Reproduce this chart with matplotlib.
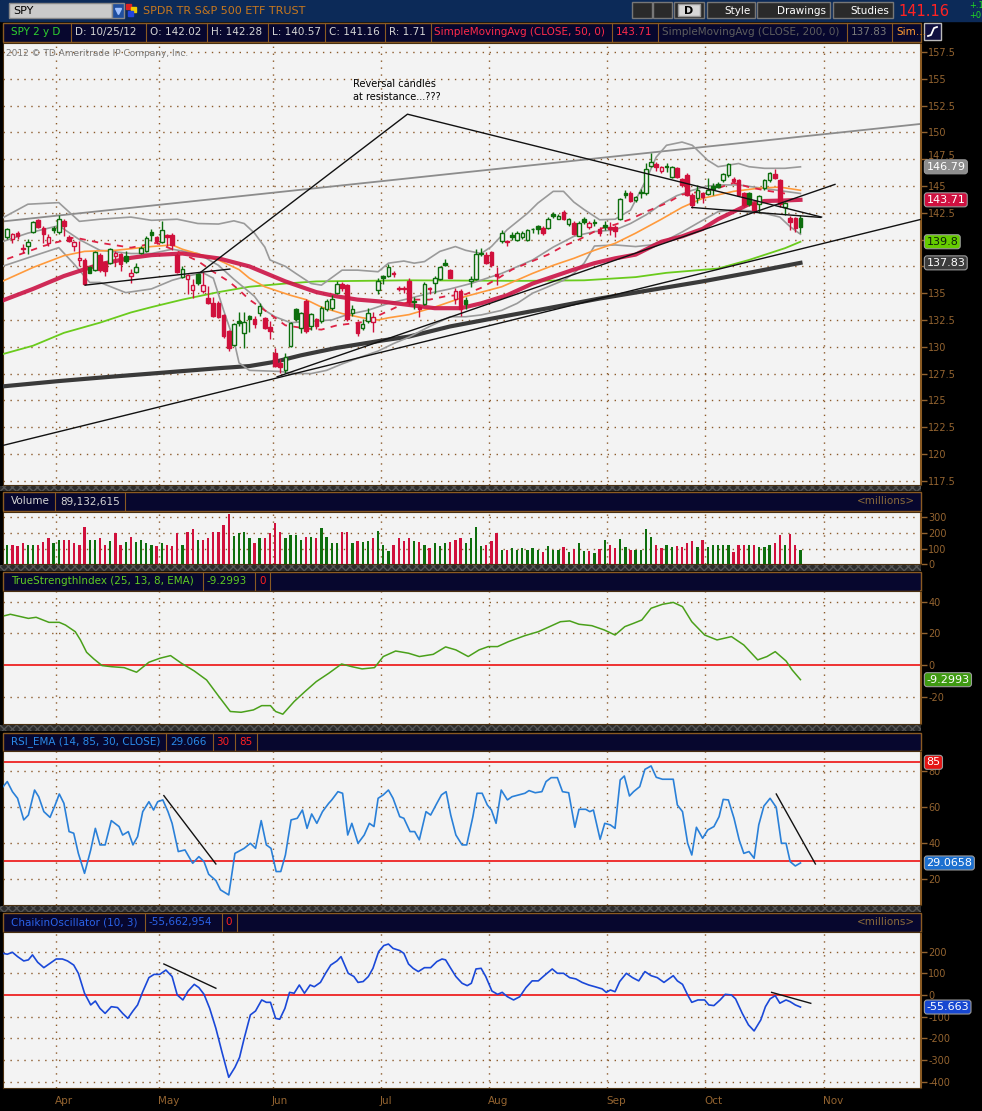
import numpy as np
import matplotlib.pyplot as plt
from matplotlib.patches import Rectangle
from matplotlib.transforms import offset_copy

W, H = 982, 1111

# Daily SPY bars, 2012-03-19 .. 2012-10-25 (bar index 0..154).
opens = [
    140.27, 140.02, 140.61, 139.25, 139.40, 140.71, 141.83, 141.11, 139.65, 141.05,
    140.71, 141.74, 140.27, 139.40, 138.07, 138.07, 137.44, 137.16, 138.53, 137.91,
    137.85, 138.47, 138.63, 138.47, 136.60, 136.98, 138.72, 138.94, 140.71, 140.24,
    139.78, 140.40, 140.40, 138.60, 136.54, 136.29, 135.27, 136.76, 135.21, 134.52,
    134.12, 134.05, 132.97, 131.47, 130.14, 132.41, 131.32, 132.87, 132.56, 133.18,
    132.72, 131.85, 129.45, 128.52, 127.84, 130.07, 133.55, 131.78, 134.27, 131.94,
    132.63, 132.41, 133.49, 133.65, 135.05, 135.83, 135.73, 133.18, 132.19, 131.78,
    132.41, 132.31, 135.30, 136.60, 136.60, 136.92, 135.52, 135.52, 136.14, 134.27,
    133.74, 133.96, 135.52, 135.98, 136.29, 137.79, 137.13, 134.49, 135.21, 134.37,
    136.14, 136.29, 138.78, 138.53, 138.84, 136.76, 139.87, 139.87, 140.40, 139.96,
    140.27, 139.96, 141.00, 141.27, 141.11, 141.11, 142.36, 141.95, 142.60, 141.42,
    141.58, 140.34, 141.95, 141.20, 141.64, 140.96, 141.33, 141.20, 141.20, 141.89,
    144.38, 144.38, 143.69, 144.44, 144.31, 146.86, 147.05, 146.43, 146.86, 145.87,
    146.65, 145.62, 146.03, 144.16, 143.85, 144.31, 144.25, 145.00, 145.18, 145.56,
    146.03, 145.62, 145.56, 144.31, 144.38, 143.38, 143.32, 144.78, 145.56, 146.12,
    145.56, 143.07, 142.04, 141.98, 142.02]
highs = [
    141.11, 140.65, 140.80, 139.56, 140.02, 141.74, 141.89, 141.27, 140.49, 141.27,
    142.26, 141.95, 140.40, 139.87, 139.87, 138.32, 137.54, 138.94, 138.78, 138.00,
    139.25, 138.94, 138.78, 138.94, 137.23, 137.79, 139.40, 140.34, 140.96, 140.34,
    141.74, 140.49, 140.60, 138.78, 137.54, 136.76, 136.29, 136.92, 136.98, 135.67,
    134.68, 134.27, 133.03, 131.54, 132.19, 133.25, 133.25, 132.94, 132.87, 134.05,
    132.81, 132.41, 129.92, 128.89, 129.45, 132.31, 133.65, 133.25, 134.43, 133.18,
    132.72, 133.81, 134.43, 134.80, 136.10, 136.00, 135.90, 133.90, 132.40, 132.60,
    133.60, 133.20, 136.40, 136.70, 137.70, 137.10, 135.70, 135.70, 136.40, 134.60,
    133.90, 136.00, 135.60, 136.60, 137.50, 138.20, 137.30, 135.50, 135.40, 134.60,
    136.60, 139.10, 139.20, 138.80, 138.90, 137.40, 140.90, 140.00, 140.70, 140.80,
    140.80, 141.00, 141.10, 141.40, 141.30, 142.10, 142.60, 142.40, 142.80, 142.00,
    141.70, 141.70, 142.10, 141.70, 141.90, 141.20, 141.70, 141.60, 141.40, 143.90,
    144.60, 144.50, 144.10, 144.70, 147.11, 148.11, 147.20, 146.90, 147.17, 146.90,
    146.80, 145.70, 146.24, 144.31, 145.09, 144.47, 145.71, 145.25, 145.40, 146.24,
    147.11, 145.87, 145.62, 144.47, 144.47, 143.54, 144.16, 145.62, 146.33, 146.55,
    145.62, 143.54, 142.20, 142.07, 142.28]
lows = [
    140.09, 139.71, 140.02, 138.78, 138.62, 140.65, 141.11, 139.71, 139.40, 140.65,
    140.49, 140.34, 139.78, 138.94, 137.54, 135.73, 136.85, 137.07, 136.98, 136.60,
    137.69, 137.54, 137.07, 137.85, 135.98, 136.85, 138.63, 138.84, 139.87, 139.56,
    139.71, 139.40, 139.00, 136.92, 136.45, 134.96, 134.58, 135.73, 135.05, 133.96,
    132.81, 132.72, 130.85, 129.61, 130.07, 131.94, 129.92, 131.38, 131.78, 132.87,
    131.69, 130.70, 128.15, 127.59, 127.59, 130.01, 132.41, 131.32, 131.32, 131.57,
    131.69, 132.25, 133.34, 133.45, 134.90, 135.20, 132.40, 132.90, 131.00, 131.60,
    132.20, 131.40, 134.90, 135.90, 136.50, 136.50, 135.20, 135.00, 133.90, 133.50,
    132.80, 133.90, 134.90, 135.00, 136.20, 137.50, 136.40, 134.00, 132.90, 133.50,
    135.60, 136.20, 138.50, 137.70, 137.40, 135.80, 139.70, 139.40, 140.00, 139.90,
    140.10, 139.90, 140.60, 140.50, 140.40, 141.00, 142.00, 141.90, 141.80, 141.30,
    140.40, 140.30, 141.50, 141.00, 141.30, 140.30, 140.90, 140.40, 140.20, 141.80,
    143.90, 143.50, 143.50, 143.90, 144.16, 146.80, 146.40, 146.20, 146.33, 145.70,
    145.70, 144.90, 144.06, 142.92, 143.44, 143.44, 144.16, 144.16, 144.80, 145.40,
    145.87, 145.31, 144.06, 143.07, 143.13, 142.51, 142.51, 144.63, 145.40, 145.62,
    143.07, 142.29, 140.89, 140.74, 140.57]
closes = [
    140.96, 140.49, 140.30, 139.09, 139.78, 141.67, 141.18, 140.49, 140.27, 140.86,
    141.89, 141.27, 139.87, 139.81, 138.32, 135.89, 136.92, 138.84, 137.16, 137.07,
    139.09, 138.72, 137.69, 138.00, 136.85, 137.41, 139.25, 140.18, 140.40, 139.87,
    140.86, 140.20, 139.46, 136.98, 137.23, 136.67, 135.80, 135.98, 135.73, 134.12,
    132.87, 132.81, 131.01, 129.92, 132.10, 132.19, 132.35, 132.56, 132.10, 133.81,
    131.78, 131.47, 128.21, 128.15, 129.08, 132.25, 132.56, 133.18, 131.47, 133.03,
    131.94, 133.65, 134.27, 134.49, 135.83, 135.52, 132.56, 133.56, 131.32, 132.10,
    133.18, 132.81, 136.14, 136.45, 137.47, 136.76, 135.42, 135.36, 134.18, 134.22,
    133.49, 135.83, 135.42, 136.45, 137.47, 137.60, 136.45, 135.21, 133.56, 133.96,
    136.29, 138.63, 138.68, 137.85, 137.60, 136.60, 140.65, 139.78, 140.27, 140.58,
    140.65, 140.90, 140.95, 141.00, 140.65, 141.95, 142.16, 142.20, 141.89, 141.92,
    140.49, 141.58, 141.60, 141.52, 141.56, 140.58, 141.20, 140.96, 140.80, 143.82,
    144.13, 143.60, 144.00, 144.38, 146.55, 147.27, 146.80, 146.74, 146.76, 146.78,
    145.87, 145.09, 144.16, 143.23, 144.63, 144.00, 144.60, 144.70, 144.94, 146.09,
    147.02, 145.46, 144.16, 143.23, 143.32, 142.76, 144.06, 145.56, 146.24, 145.77,
    143.35, 143.44, 141.67, 141.05, 141.16]
volume_m = [
    126, 122, 118, 133, 122, 122, 122, 144, 165, 133, 154, 154, 154, 133, 126, 236,
    154, 154, 169, 126, 148, 197, 126, 139, 171, 139, 154, 133, 126, 116, 137, 126,
    118, 197, 126, 208, 225, 154, 154, 165, 204, 204, 251, 319, 182, 197, 204, 169,
    137, 165, 165, 197, 261, 208, 169, 186, 186, 154, 176, 176, 169, 234, 176, 133,
    133, 204, 204, 133, 148, 139, 148, 169, 214, 126, 84, 126, 165, 148, 169, 148,
    144, 126, 101, 133, 118, 133, 139, 154, 169, 133, 165, 240, 116, 126, 148, 197,
    90, 90, 105, 90, 105, 90, 105, 90, 79, 116, 90, 90, 111, 79, 96, 133, 84, 84,
    69, 96, 154, 122, 101, 161, 111, 90, 90, 90, 225, 176, 122, 101, 126, 111, 118,
    111, 133, 148, 111, 154, 111, 122, 122, 126, 126, 79, 122, 126, 122, 122, 111,
    111, 126, 133, 186, 126, 191, 122, 89]

# First bar of each month (bar index) for the grid / labels.
month_names = ['Apr', 'May', 'Jun', 'Jul', 'Aug', 'Sep', 'Oct', 'Nov']
month_first_bar = [10, 30, 52, 73, 94, 117, 136, 159]

# Overlay studies at a few bars each.
sma50_t = [-1, 5, 11, 18, 24, 28, 34, 41, 47, 54, 57, 60, 64, 68, 73, 78, 83, 88,
           92, 97, 102, 106, 110, 114, 118, 122, 127, 131, 135, 138, 141, 144, 147,
           151, 154]
sma50_v = [134.3, 135.4, 136.6, 137.7, 138.3, 138.55, 138.7, 138.25, 137.5, 136.1,
           135.6, 135.1, 134.7, 134.4, 134.2, 133.9, 133.6, 133.6, 134.05, 134.8,
           135.9, 136.55, 137.2, 137.8, 138.25, 138.6, 139.8, 140.3, 141.0, 141.9,
           142.6, 143.3, 143.6, 143.65, 143.71]
sma200_t = [-1, 10, 20, 28, 41, 47, 52, 57, 64, 73, 78, 86, 96, 105, 115, 125, 135,
            144, 154]
sma200_v = [126.3, 126.8, 127.2, 127.5, 128.0, 128.2, 128.6, 129.2, 129.9, 130.6,
            130.95, 131.9, 132.8, 133.6, 134.5, 135.3, 136.1, 136.9, 137.83]
sma100_t = [-1, 5, 11, 18, 24, 28, 34, 41, 47, 54, 60, 78, 100, 112, 122, 128, 138,
            144, 151, 154]
sma100_v = [129.3, 130.1, 131.3, 132.25, 133.2, 133.7, 134.4, 135.1, 135.6, 135.9,
            136.1, 136.2, 136.15, 136.2, 136.5, 136.9, 137.3, 138.1, 139.2, 139.8]
ema_t = [-1, 5, 11, 15, 21, 28, 32, 34, 41, 45, 47, 50, 55, 58, 61, 65, 69, 72, 74,
         78, 83, 89, 96, 102, 106, 110, 114, 118, 122, 127, 131, 135, 141, 146, 150,
         154]
ema_v = [136.1, 137.4, 138.5, 138.9, 139.0, 139.35, 139.5, 139.1, 138.1, 137.2,
         136.4, 135.6, 134.8, 134.4, 133.7, 133.1, 132.7, 132.5, 132.7, 133.0, 133.7,
         134.7, 135.6, 136.85, 137.6, 138.25, 139.0, 139.65, 140.6, 141.9, 143.0,
         143.85, 144.5, 144.8, 144.9, 144.6]
fast_t = [0, 7, 13, 18, 24, 29, 33, 37, 40, 43, 45, 47, 50, 54, 58, 61, 64, 69, 72,
          76, 79, 82, 85, 89, 92, 95, 98, 102, 105, 108, 111, 115, 118, 121, 124,
          128, 131, 135, 138, 141, 144, 147, 151]
fast_v = [138.2, 139.4, 140.2, 139.7, 139.25, 139.7, 138.9, 138.0, 137.0, 136.1,
          135.3, 134.4, 133.4, 132.0, 131.7, 131.6, 132.0, 132.3, 132.9, 133.8, 134.4,
          134.4, 134.7, 134.9, 135.5, 136.3, 137.2, 138.0, 138.6, 139.4, 140.0, 141.0,
          141.4, 141.9, 142.6, 143.4, 144.2, 144.5, 144.8, 145.3, 144.9, 144.6, 144.3]
bb_up_t = [-1, 4, 10, 14, 18, 24, 28, 33, 37, 41, 44, 46, 48, 50, 51, 54, 56, 59, 61,
           65, 68, 72, 74, 77, 79, 81, 84, 87, 89, 92, 94, 97, 101, 103, 106, 108,
           110, 112, 115, 118, 121, 124, 126, 128, 131, 133, 136, 138, 140, 142, 144,
           147, 151, 154]
bb_up_v = [142.0, 143.3, 143.45, 141.7, 141.9, 142.1, 141.8, 141.9, 141.5, 141.45,
           141.75, 141.5, 140.6, 139.3, 138.1, 137.5, 136.85, 135.9, 135.75, 137.15,
           137.15, 137.0, 137.8, 138.0, 137.8, 137.95, 138.9, 139.35, 139.0, 138.7,
           139.35, 140.9, 142.45, 143.4, 144.5, 144.5, 143.5, 142.8, 141.85, 141.9,
           142.75, 145.55, 147.7, 148.8, 149.1, 148.8, 147.4, 146.8, 146.95, 147.1,
           146.8, 146.65, 146.65, 146.79]
bb_mid_t = [-1, 4, 10, 14, 18, 24, 28, 32, 37, 41, 44, 48, 50, 52, 55, 58, 63, 66,
            70, 74, 78, 82, 86, 90, 96, 102, 106, 110, 114, 118, 121, 124, 127, 130,
            133, 136, 139, 142, 145, 148, 151, 154]
bb_mid_v = [139.8, 140.6, 141.3, 140.0, 139.0, 138.7, 138.7, 139.1, 138.7, 137.6,
            136.3, 134.7, 133.4, 132.8, 132.25, 132.35, 132.5, 133.0, 133.4, 134.05,
            134.5, 135.0, 135.4, 135.9, 136.85, 138.1, 139.3, 140.3, 140.75, 140.9,
            141.5, 142.3, 143.3, 144.1, 144.6, 145.0, 145.1, 145.1, 144.9, 144.7,
            144.5, 144.3]
bb_lo_t = [-1, 4, 10, 13, 16, 18, 23, 28, 32, 35, 38, 40, 42, 44, 45, 47, 50, 53, 56,
           59, 62, 65, 69, 72, 75, 78, 82, 86, 89, 92, 96, 99, 102, 105, 108, 110,
           112, 114, 118, 122, 125, 128, 131, 135, 138, 141, 144, 147, 150, 152, 154]
bb_lo_v = [137.5, 138.3, 139.25, 137.7, 136.0, 136.0, 135.05, 135.4, 136.2, 136.6,
           136.9, 136.4, 133.4, 130.6, 128.5, 127.8, 127.75, 127.7, 127.5, 127.5,
           127.8, 128.4, 129.1, 129.6, 130.3, 130.9, 131.9, 132.8, 132.8, 132.97,
           133.4, 134.05, 135.0, 135.6, 136.2, 136.85, 137.8, 139.4, 139.5, 139.35,
           139.5, 139.96, 140.7, 141.8, 142.6, 142.75, 142.7, 142.45, 142.1, 141.2,
           140.5]

# Lower studies.
tsi_t = [-0.5, 0.6, 4.1, 5.6, 8.1, 10.1, 11.3, 13.2, 14.2, 15.4, 16.8, 18.4, 20.2,
         22.7, 25.1, 27.5, 29.6, 31.7, 33.8, 36.3, 38.7, 41.1, 43.3, 45.4, 47.8, 49.4,
         51.1, 52.1, 53.5, 55.7, 57.8, 60.0, 62.4, 64.9, 66.9, 68.9, 71.3, 73.0, 75.4,
         77.9, 80.0, 82.7, 85.1, 87.1, 89.5, 91.6, 93.4, 95.2, 97.3, 100.5, 103.1,
         105.3, 107.4, 109.2, 111.0, 113.5, 115.9, 118.0, 119.9, 121.6, 123.2, 125.0,
         127.2, 129.3, 131.1, 132.9, 135.4, 137.8, 140.6, 143.0, 145.7, 147.5, 149.1,
         151.2, 152.4, 154.0]
tsi_v = [31.1, 32.0, 29.4, 30.1, 26.9, 26.9, 25.2, 21.0, 15.8, 8.0, 3.8, -0.4, -1.1,
         -1.7, -4.6, 1.7, 4.2, 5.9, 1.1, -3.8, -9.5, -20.0, -29.4, -29.9, -28.4,
         -25.7, -25.7, -29.4, -31.1, -23.1, -16.8, -10.5, -5.3, 0.6, -1.1, -2.5, -1.7,
         5.3, 8.8, 7.4, 5.3, 6.7, 11.4, 9.5, 5.3, 9.5, 11.6, 11.6, 14.7, 18.5, 21.0,
         24.2, 27.3, 27.8, 25.7, 24.8, 22.1, 18.9, 24.2, 26.3, 28.4, 35.8, 38.3, 39.5,
         36.8, 27.3, 18.9, 15.8, 17.9, 12.6, 3.2, 5.3, 8.4, 2.5, -3.2, -9.3]
rsi_t = [-0.8, 0.0, 1.0, 2.0, 3.2, 4.1, 5.3, 6.1, 7.1, 8.3, 9.3, 10.1, 11.0, 12.0,
         12.9, 13.8, 15.0, 16.2, 17.1, 18.0, 19.0, 20.2, 21.7, 22.4, 23.5, 24.4, 25.3,
         26.3, 27.5, 28.4, 29.2, 30.2, 31.2, 32.0, 33.2, 34.5, 36.0, 37.2, 38.2, 39.1,
         40.5, 41.4, 43.0, 44.2, 46.0, 47.2, 48.2, 49.3, 50.3, 51.2, 52.2, 53.1, 54.0,
         55.1, 56.3, 57.3, 58.2, 59.1, 60.1, 61.2, 62.4, 63.0, 64.2, 65.1, 66.1, 66.9,
         68.1, 69.3, 70.3, 71.2, 72.0, 73.0, 74.0, 74.9, 76.2, 77.0, 78.2, 79.1, 80.0,
         81.3, 82.2, 83.4, 84.3, 85.2, 86.1, 87.1, 88.3, 89.2, 90.4, 91.2, 92.2, 93.2,
         94.0, 94.9, 95.9, 97.1, 98.0, 99.3, 100.5, 101.3, 102.5, 103.8, 104.6, 105.6,
         106.8, 107.8, 109.0, 110.2, 111.0, 112.3, 113.1, 113.8, 115.1, 116.0, 117.1,
         118.0, 119.0, 119.8, 120.8, 121.6, 122.8, 123.8, 125.0, 126.0, 127.2, 128.7,
         129.3, 130.1, 131.1, 132.1, 132.9, 133.8, 135.0, 136.0, 137.2, 138.2, 139.0,
         140.0, 141.1, 142.1, 143.0, 144.0, 145.0, 145.9, 146.9, 148.1, 149.3, 150.3,
         151.2, 152.0, 153.0, 154.0]
rsi_v = [71.5, 74.3, 68.7, 65.0, 53.0, 55.7, 69.6, 65.9, 57.6, 54.4, 61.3, 67.4, 62.2,
         46.5, 45.6, 34.4, 23.3, 36.3, 48.3, 39.1, 39.1, 52.6, 49.3, 44.6, 46.5, 39.1,
         43.7, 57.6, 63.1, 58.5, 63.1, 64.1, 57.6, 51.1, 35.4, 36.3, 28.9, 32.6, 29.8,
         22.8, 19.3, 14.1, 11.3, 34.4, 37.2, 40.0, 37.2, 52.6, 39.1, 37.2, 24.3, 24.3,
         33.5, 53.0, 53.9, 58.5, 48.3, 56.3, 51.1, 57.6, 62.2, 64.1, 68.7, 67.8, 44.6,
         51.1, 40.0, 44.6, 51.1, 49.3, 65.0, 66.9, 69.6, 65.0, 54.8, 53.9, 46.5, 46.5,
         41.9, 57.6, 55.7, 62.2, 66.9, 68.7, 55.7, 44.6, 39.1, 39.1, 54.8, 67.8, 67.8,
         61.3, 58.5, 51.1, 69.6, 64.1, 65.9, 66.9, 67.8, 69.3, 68.1, 68.7, 74.3, 76.5,
         76.5, 68.7, 68.1, 48.9, 58.9, 58.9, 57.6, 58.5, 42.2, 51.1, 50.2, 48.3, 75.2,
         77.4, 66.3, 68.7, 71.5, 81.1, 83.0, 76.7, 75.6, 75.6, 75.6, 61.3, 57.6, 40.0,
         33.5, 48.9, 42.8, 47.4, 49.3, 54.8, 64.4, 64.1, 53.9, 41.9, 34.4, 35.4, 31.7,
         50.2, 60.7, 65.0, 60.0, 40.0, 40.0, 29.8, 27.4, 29.07]
chaikin_t = [-0.8, 0.0, 1.0, 2.0, 3.2, 4.1, 4.9, 5.9, 7.1, 8.3, 9.5, 10.7, 11.7,
             12.9, 13.8, 15.0, 16.2, 17.1, 18.0, 19.0, 20.2, 21.4, 22.4, 23.4, 24.4,
             25.3, 26.3, 27.5, 28.5, 29.6, 30.8, 32.0, 33.0, 34.1, 35.1, 36.3, 37.2,
             38.2, 39.3, 40.5, 41.7, 43.0, 44.2, 45.1, 46.0, 47.2, 48.2, 49.4, 50.3,
             51.1, 52.1, 52.9, 53.9, 54.8, 55.7, 56.7, 57.7, 58.8, 59.6, 60.8, 61.8,
             62.8, 64.0, 64.8, 66.2, 67.3, 68.1, 69.1, 70.1, 71.0, 72.1, 73.1, 74.0,
             74.9, 76.2, 77.0, 77.9, 78.8, 79.8, 81.0, 82.2, 83.4, 84.4, 85.1, 86.1,
             87.1, 88.3, 89.3, 90.1, 91.0, 92.0, 92.9, 94.1, 95.2, 96.1, 97.1, 98.3,
             99.5, 100.7, 101.9, 103.1, 104.4, 105.8, 106.8, 108.0, 109.2, 110.4,
             111.6, 112.9, 114.1, 115.5, 116.3, 117.1, 118.0, 118.9, 120.2, 121.4,
             122.6, 123.8, 125.0, 126.2, 127.5, 129.3, 130.1, 131.1, 132.1, 132.9,
             134.1, 135.4, 136.2, 137.2, 138.4, 139.4, 140.6, 141.4, 142.7, 143.9,
             145.0, 146.3, 147.2, 148.1, 149.1, 150.0, 151.2, 152.0, 153.0, 154.0]
chaikin_m = [192, 188, 197, 177, 157, 162, 185, 151, 126, 146, 166, 166, 157, 138,
             100, 8, -46, -28, -62, -85, -54, -58, -85, -108, -74, -46, 15, 80, 95,
             95, 115, 85, 0, -23, 18, 49, 34, 3, -62, -154, -265, -380, -334, -288,
             -200, -92, -74, -23, -34, -34, -108, -112, -62, 12, 8, 46, 8, 46, 38, 58,
             100, 138, 157, 177, 100, 85, 58, 62, 85, 123, 200, 228, 235, 215, 205,
             192, 143, 123, 108, 126, 126, 154, 166, 162, 123, 85, 54, 43, 54, 120,
             123, 85, 18, 3, 12, -8, -23, -8, 34, 65, 65, 92, 120, 100, 100, 80, 74,
             58, 46, 38, 28, 12, 23, 15, 62, 100, 80, 65, 108, 89, 80, 58, 89, 65, 49,
             0, -34, -23, -23, -46, -49, -23, 3, 0, -18, -85, -138, -166, -115, -54,
             -18, -3, -38, -23, -31, -46, -55.7]

# Hand drawn trend lines (bar, price) pairs.
price_lines = [
    ([-0.8, 177.5], [120.8, 141.9]),
    ([52.4, 160.7], [127.2, 145.15]),
    ([37.4, 77.7, 158.1], [136.9, 151.7, 142.1]),
    ([15.1, 43.2], [135.75, 137.25]),
    ([132.9, 157.9], [143.0, 142.07]),
]
resistance_line = ([-0.8, 177.5], [141.7, 150.8])
rsi_lines = [([30.4, 40.5], [66.5, 28.5]), ([149.3, 156.9], [67.4, 28.5])]
chaikin_lines = [([30.4, 40.5], [143, 31]), ([148.4, 156.0], [12, -38.5])]

# Colours.
PANEL = '#f3f3f3'
NAVY = '#07072e'
EDGE = '#8a5a22'
BROWN = '#946430'
GRID = '#8b5a2b'
GREEN = '#0d6e0d'
RED = '#d0103c'
X0, X1 = -0.83, 177.5

plt.rcParams['font.family'] = ['DejaVu Sans']
fig = plt.figure(figsize=(W / 100, H / 100), dpi=100, facecolor='black')


def px(x0, y0, x1, y1):
    return [x0 / W, 1 - y1 / H, (x1 - x0) / W, (y1 - y0) / H]


bg = fig.add_axes([0, 0, 1, 1])
bg.set_xlim(0, W)
bg.set_ylim(H, 0)
bg.axis('off')
bg.add_patch(Rectangle((0, 0), W, H, color='black'))

# Top tool bar.
bg.add_patch(Rectangle((0, 0), W, 20.5, color='#0c2a58'))
bg.add_patch(Rectangle((9, 3), 103, 15, facecolor='#cacaca', edgecolor='#888'))
bg.text(13, 10.5, 'SPY', fontsize=8, color='black', va='center')
bg.add_patch(Rectangle((112, 3), 12, 15, facecolor='#1f4fa0', edgecolor='#888'))
bg.plot([118], [11], marker='v', ms=4, color='#9fc0ff')
for dx, dy, cc in [(126, 4, '#dd2222'), (131, 7, '#eecc00'), (128, 11, '#2244dd')]:
    bg.add_patch(Rectangle((dx, dy), 5, 5, color=cc))
bg.text(143, 10.5, 'SPDR TR S&P 500 ETF TRUST', fontsize=8, color='#c8781e',
        va='center')
for bx, bw in [(632, 20), (653, 19)]:
    bg.add_patch(Rectangle((bx, 2), bw, 16, facecolor='#2a2a2a', edgecolor='#777'))
bg.add_patch(Rectangle((674, 2), 30, 16, facecolor='#2a2a2a', edgecolor='#777'))
bg.add_patch(Rectangle((678, 4), 22, 12, facecolor='#d8d8d8', edgecolor='#999'))
bg.text(689, 10.5, 'D', fontsize=8, color='black', ha='center', va='center',
        weight='bold')
for bx, bw, label in [(707, 48, 'Style'), (757, 73, 'Drawings'),
                      (833, 60, 'Studies')]:
    bg.add_patch(Rectangle((bx, 2), bw, 16, facecolor='#2a2a2a', edgecolor='#777'))
    bg.text(bx + bw - 4, 10.5, label, fontsize=7.5, color='white', ha='right',
            va='center')
bg.text(898, 11, '141.16', fontsize=10.5, color='#ff2222', va='center')
bg.text(969, 6, '+.1', fontsize=6, color='#22dd22', va='center')
bg.text(969, 15.5, '+0', fontsize=6, color='#22dd22', va='center')


def header(y0, y1, parts, seps, right=None):
    bg.add_patch(Rectangle((3, y0), 918.5, y1 - y0, facecolor=NAVY,
                           edgecolor=EDGE, lw=1))
    ym = (y0 + y1) / 2
    for x, txt, col in parts:
        bg.text(x, ym, txt, color=col, fontsize=7.5, va='center')
    for xs in seps:
        bg.plot([xs, xs], [y0, y1], color=EDGE, lw=0.8)
    if right:
        bg.text(915, ym, right, color='#8a6a3a', fontsize=7.5, va='center',
                ha='right')


GREY_T = '#d4d4d4'
header(22.5, 42, [(11, 'SPY 2 y D', '#2fd02f'), (75, 'D: 10/25/12', GREY_T),
                  (150, 'O: 142.02', GREY_T), (211, 'H: 142.28', GREY_T),
                  (272, 'L: 140.57', GREY_T), (329, 'C: 141.16', GREY_T),
                  (389, 'R: 1.71', GREY_T),
                  (434, 'SimpleMovingAvg (CLOSE, 50, 0)', '#ff2a4a'),
                  (616, '143.71', '#ff2a4a'),
                  (662, 'SimpleMovingAvg (CLOSE, 200, 0)', '#5e5e5e'),
                  (851, '137.83', '#7a7a7a'), (896, 'Sim\u2026', '#ff9a30')],
       [71, 146, 207, 268, 325, 385, 431, 612, 658, 847, 892])
bg.add_patch(Rectangle((924, 23), 17, 17, facecolor='#101040', edgecolor='#bbb'))
bg.plot([928, 931, 934, 937], [36, 35, 28, 27], color='white', lw=1.3)
header(492, 511, [(11, 'Volume', GREY_T), (60, '89,132,615', GREY_T)],
       [55, 125], right='<millions>')
header(572, 591, [(11, 'TrueStrengthIndex (25, 13, 8, EMA)', '#5fcc22'),
                  (207, '-9.2993', '#5fcc22'), (259, '0', '#ff2020')],
       [203.5, 255.5, 270.5])
header(732.5, 751, [(11, 'RSI_EMA (14, 85, 30, CLOSE)', '#2a8ae8'),
                    (170, '29.066', '#2a8ae8'), (216, '30', '#ff2020'),
                    (239, '85', '#ff2020')],
       [166, 213, 235, 257])
header(913, 931.7, [(11, 'ChaikinOscillator (10, 3)', '#2a62e8'),
                    (149, '-55,662,954', '#2a62e8'), (225, '0', '#ff2020')],
       [145, 222, 237], right='<millions>')

# Hatched separator strips between panes.
for y0, y1 in [(485.5, 491), (565, 571), (725, 731), (906, 912)]:
    bg.add_patch(Rectangle((0, y0), 921.5, y1 - y0, facecolor='#2c2c2c',
                           edgecolor='#555555', hatch='xxxx', lw=0))


def panel(y0, y1, ylim, ticks, labels, grid):
    ax = fig.add_axes(px(3, y0, 921.5, y1))
    ax.set_facecolor(PANEL)
    ax.set_xlim(X0, X1)
    ax.set_ylim(*ylim)
    ax.set_xticks([])
    ax.yaxis.tick_right()
    ax.set_yticks(ticks)
    ax.set_yticklabels(labels)
    ax.tick_params(axis='y', colors=BROWN, labelsize=7, length=4, width=1, pad=1)
    for s in ax.spines.values():
        s.set_color('#4a3010')
    ax.spines['right'].set_color(EDGE)
    ax.spines['right'].set_linewidth(1.5)
    for m in month_first_bar:
        ax.axvline(m - 0.5, color=GRID, lw=1, ls=(0, (1, 4)), zorder=1)
    for g in grid:
        ax.axhline(g, color=GRID, lw=1, ls=(0, (1, 4)), zorder=1)
    return ax


def tag(ax, y, text, fc, tc='white'):
    ax.annotate(text, xy=(1, y), xycoords=('axes fraction', 'data'),
                xytext=(3.5, 0), textcoords='offset points', ha='left',
                va='center', fontsize=8, color=tc, annotation_clip=False,
                zorder=10,
                bbox=dict(boxstyle='round,pad=0.18,rounding_size=0.25', fc=fc,
                          ec='#9a9a9a', lw=0.8))


# ---- price pane ----
# the 140 and 137.5 labels sit under the study tags, as on the original
pticks = np.arange(117.5, 158, 2.5)
plabels = ['' if t in (140.0, 137.5) else f'{t:g}' for t in pticks]
ax = panel(42.7, 484.5, (117.15, 158.37), pticks, plabels, pticks)
# 147.5 peeks out just above the 146.79 tag
for lab in ax.get_yticklabels():
    if lab.get_text() == '147.5':
        lab.set_transform(offset_copy(lab.get_transform(), fig=fig, y=4,
                                      units='dots'))
o, hi, lo, c = map(np.array, (opens, highs, lows, closes))
days = np.arange(len(c))
prev = np.r_[o[0], c[:-1]]
col = np.where(c >= prev, GREEN, RED)
hollow = c > o

ax.plot(*resistance_line, color='#8c8c8c', lw=1.3, zorder=2)
ax.plot(sma200_t, sma200_v, color='#3a3a3a', lw=3, zorder=3)
ax.plot(sma100_t, sma100_v, color='#6acb1c', lw=1.3, zorder=3)
for t, v in [(bb_up_t, bb_up_v), (bb_mid_t, bb_mid_v), (bb_lo_t, bb_lo_v)]:
    ax.plot(t, v, color='#9a9a9a', lw=1.2, zorder=3)
ax.plot(ema_t, ema_v, color='#ff9a3c', lw=1.2, zorder=3)
ax.plot(sma50_t, sma50_v, color='#cc1446', lw=3, alpha=0.9, zorder=3)
ax.plot(fast_t, fast_v, color='#dd2244', lw=1.3, ls=(0, (3.5, 3.5)), zorder=3)

ax.vlines(days, lo, hi, colors=col, lw=1, zorder=4)
body_lo = np.minimum(o, c)
body_h = np.maximum(np.abs(c - o), 0.07)
faces = [PANEL if hh else cc for hh, cc in zip(hollow, col)]
ax.bar(days, body_h, width=0.7, bottom=body_lo, color=faces, edgecolor=col,
       linewidth=1, zorder=5)

for t, v in price_lines:
    ax.plot(t, v, color='#111111', lw=1, zorder=6)
ax.text(67.1, 154.95, 'Reversal candles\nat resistance...???', fontsize=7,
        color='black', va='top', ha='left', linespacing=1.35, zorder=7)
ax.text(0.003, 0.985, '2012 \u00a9 TD Ameritrade IP Company, Inc.',
        transform=ax.transAxes, fontsize=6.5, color='#777777', va='top',
        zorder=7)
tag(ax, 146.79, '146.79', '#8d8d8d')
tag(ax, 143.71, '143.71', '#d01040')
tag(ax, 139.8, '139.8', '#66cc00', tc='#0a200a')
tag(ax, 137.83, '137.83', '#3c3c3c')

# ---- volume pane ----
av = panel(512, 564.3, (0, 333), [0, 100, 200, 300], ['0', '100', '200', '300'],
           [100, 200, 300])
av.bar(days, volume_m, width=0.45, color=col, zorder=3)

# ---- TSI pane ----
at = panel(591, 724, (-37.3, 46.7), [-20, 0, 20, 40], ['-20', '0', '20', '40'],
           [-20, 20, 40])
at.axhline(0, color='#ee1111', lw=1.2, zorder=2)
at.plot(tsi_t, tsi_v, color='#4aa01a', lw=1.1, zorder=3)
tag(at, -9.2993, '-9.2993', '#3f9a12')

# ---- RSI pane ----
ar = panel(751, 905, (5.7, 91.3), [20, 40, 60, 80], ['20', '40', '60', '80'],
           [20, 40, 60, 80])
ar.axhline(85, color='#ee1111', lw=1.2, zorder=2)
ar.axhline(30, color='#ee1111', lw=1.2, zorder=2)
ar.plot(rsi_t, rsi_v, color='#2a80d8', lw=1.2, zorder=3)
for t, v in rsi_lines:
    ar.plot(t, v, color='#111111', lw=1, zorder=4)
tag(ar, 85, '85', '#e41414')
tag(ar, 29.0658, '29.0658', '#1c70d0')

# ---- Chaikin pane ----
cticks = [-400, -300, -200, -100, 0, 100, 200]
ac = panel(931.7, 1087.7, (-428, 292), cticks, [str(t) for t in cticks],
           [t for t in cticks if t != 0])
ac.axhline(0, color='#ee1111', lw=1.2, zorder=2)
ac.plot(chaikin_t, chaikin_m, color='#1a48d8', lw=1.2, zorder=3)
for t, v in chaikin_lines:
    ac.plot(t, v, color='#111111', lw=1, zorder=4)
tag(ac, -55.663, '-55.663', '#1747d0')
for m, name in zip(month_first_bar, month_names):
    ac.text(m - 0.7, -0.085, name, transform=ac.get_xaxis_transform(),
            fontsize=7.5, color=BROWN, ha='left', va='center', clip_on=False)

fig.savefig('out.png', dpi=100, facecolor='black')
